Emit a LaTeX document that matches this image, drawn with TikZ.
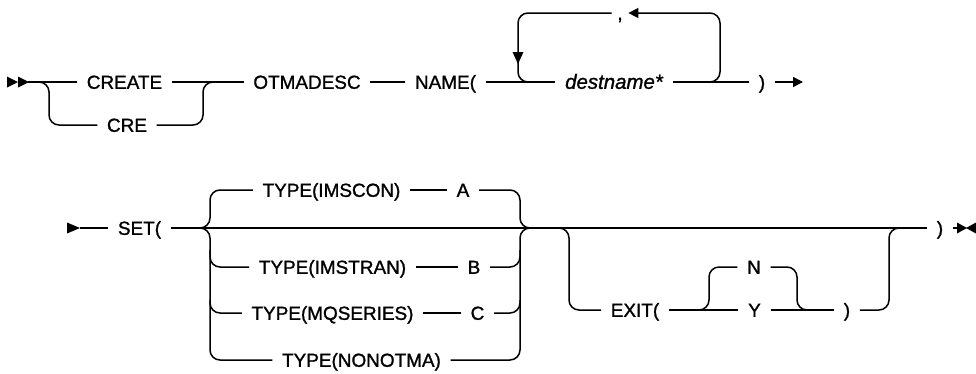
\documentclass[tikz,border=0pt]{standalone}
\usepackage{fontspec}
\setmainfont{Liberation Sans}
\newfontfamily\diagfont[FakeBold=1.2]{Liberation Sans}
\newfontfamily\diagital[FakeBold=1.2]{Liberation Sans Italic}
\usetikzlibrary{arrows.meta}
\tikzset{
  lbl/.style={font=\fontsize{19}{19}\diagfont, inner xsep=9bp, inner ysep=0pt,
              text height=13.6bp, text depth=0pt, anchor=center},
  ital/.style={lbl, font=\fontsize{20.5}{20}\diagital},
  rc/.style={rounded corners=10bp},
  tip/.style={-{Triangle[length=10bp,width=10bp]}},
}
\begin{document}
\begin{tikzpicture}[x=1bp,y=-1bp,line width=1.5bp]
\useasboundingbox (0,0) rectangle (976,373);
% ---------- row 1 ----------
\node[lbl] (create) at (124.5,82) {CREATE};
\node[lbl] (cre) at (127,125) {CRE};
\node[lbl] (otmadesc) at (307,82) {OTMADESC};
\node[lbl] (name) at (445.5,82) {NAME(};
\node[ital] (destname) at (614,82) {destname*};
\node[lbl] (p1) at (762,82) {)};
\node[lbl, inner xsep=5bp] (comma) at (620,13) {,};
\coordinate (end1) at (803,82);

\fill (7,76.5) -- (18,82) -- (7,87.5) -- cycle;
\fill (18,76.5) -- (29,82) -- (18,87.5) -- cycle;
\draw (28,82) -- (create.west);
\draw[rc] (30,82) -- (49,82) -- (49,125) -- (cre.west);
\draw[rc] (cre.east) -- (203,125) -- (203,82) -- (220,82);
\draw (create.east) -- (otmadesc.west);
\draw (otmadesc.east) -- (name.west);
\draw (name.east) -- (destname.west);
\draw[rc] (comma.west) -- (518,13) -- (518,82) -- (535,82);
\fill (512.5,52) -- (523.5,52) -- (518,64) -- cycle;
\draw (destname.east) -- (p1.west);
\draw[rc, tip] (700,82) -- (720,82) -- (720,13) -- (comma.east);
\draw[tip] (p1.east) -- (end1);

% ---------- row 2 ----------
\node[lbl] (set) at (139.5,228) {SET(};
\node[lbl] (imscon) at (331.5,190) {TYPE(IMSCON)};
\node[lbl] (a) at (463,190) {A};
\node[lbl] (imstran) at (332.5,267) {TYPE(IMSTRAN)};
\node[lbl] (b) at (474,267) {B};
\node[lbl] (mqseries) at (332.5,313) {TYPE(MQSERIES)};
\node[lbl] (c) at (477.5,313) {C};
\node[lbl] (nonotma) at (361.5,360) {TYPE(NONOTMA)};
\node[lbl] (exit) at (635,310) {EXIT(};
\node[lbl] (n) at (754,267) {N};
\node[lbl] (y) at (754.5,310) {Y};
\node[lbl] (p3) at (847,310) {)};
\node[lbl] (p2) at (940,228) {)};
\coordinate (end2) at (958,228);

\fill (67,222.5) -- (80,228) -- (67,233.5) -- cycle;
\draw (80,228) -- (set.west);
\draw (set.east) -- (p2.west);
% stack 1 left
\draw[rc] (195,228) -- (210,228) -- (210,190) -- (imscon.west);
\draw[rc] (195,228) -- (210,228) -- (210,360) -- (nonotma.west);
\draw[rc] (210,250) -- (210,267) -- (imstran.west);
\draw[rc] (210,300) -- (210,313) -- (mqseries.west);
% items
\draw (imscon.east) -- (a.west);
\draw (imstran.east) -- (b.west);
\draw (mqseries.east) -- (c.west);
% stack 1 right
\draw[rc] (a.east) -- (520,190) -- (520,228) -- (535,228);
\draw[rc] (nonotma.east) -- (520,360) -- (520,228) -- (535,228);
\draw[rc] (b.east) -- (520,267) -- (520,250);
\draw[rc] (c.east) -- (520,313) -- (520,300);
% EXIT branch
\draw[rc] (555,228) -- (569,228) -- (569,310) -- (exit.west);
\draw (exit.east) -- (y.west);
\draw[rc] (695,310) -- (709,310) -- (709,267) -- (n.west);
\draw[rc] (n.east) -- (797,267) -- (797,310) -- (810,310);
\draw (y.east) -- (p3.west);
\draw[rc] (p3.east) -- (889,310) -- (889,228) -- (903,228);
\draw (p2.east) -- (end2);
\fill (957,222.5) -- (967,228) -- (957,233.5) -- cycle;
\fill (976,222.5) -- (966,228) -- (976,233.5) -- cycle;
\end{tikzpicture}
\end{document}
